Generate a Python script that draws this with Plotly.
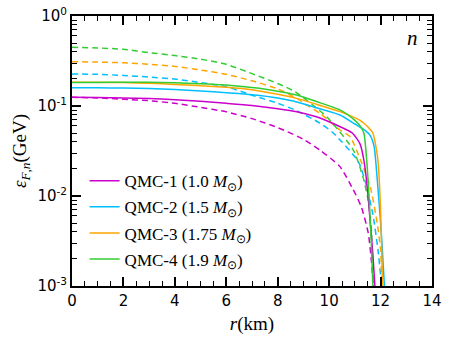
import plotly.graph_objects as go

# ---- data (r in km, epsilon in GeV) ----
names = ["QMC-1 (1.0 <i>M</i><sub>⊙</sub>)", "QMC-2 (1.5 <i>M</i><sub>⊙</sub>)",
         "QMC-3 (1.75 <i>M</i><sub>⊙</sub>)", "QMC-4 (1.9 <i>M</i><sub>⊙</sub>)"]
colors = ["#CC00CC", "#00BFFF", "#FFA500", "#33CC33"]

# solid curves
r_s1 = [0, 1, 2, 3, 4, 5, 6, 7, 8, 8.74, 9.5, 10.2, 10.9, 11.2, 11.35, 11.5, 11.6, 11.7, 11.78]
e_s1 = [0.1247, 0.1242, 0.1227, 0.1208, 0.1175, 0.1130, 0.1072, 0.1012, 0.0933, 0.0865,
        0.0759, 0.0631, 0.0501, 0.0380, 0.0251, 0.0112, 0.0050, 0.00224, 0.0010]

r_s2 = [0, 1, 2, 3, 4, 5, 6, 7, 8, 8.6, 9.5, 10.42, 11.0, 11.4, 11.6, 11.75, 11.82, 11.95, 12.05, 12.15]
e_s2 = [0.160, 0.1596, 0.1581, 0.1560, 0.1521, 0.1469, 0.1403, 0.1334, 0.1230, 0.1135,
        0.0955, 0.0794, 0.0631, 0.0537, 0.0468, 0.0355, 0.0229, 0.0079, 0.00316, 0.0010]

r_s3 = [0, 1, 2, 3, 4, 5, 6, 7, 8, 8.74, 9.5, 10.42, 11.2, 11.5, 11.7, 11.85, 11.91, 12.0, 12.08]
e_s3 = [0.1841, 0.1837, 0.1820, 0.1786, 0.1738, 0.1679, 0.1611, 0.1514, 0.1349, 0.1216,
        0.1047, 0.0865, 0.0692, 0.0589, 0.0501, 0.0316, 0.0229, 0.0071, 0.0010]

r_s4 = [0, 1, 2, 3, 4, 5, 6, 7, 8, 8.74, 9.5, 10.42, 11.0, 11.2, 11.35, 11.46, 11.56, 11.65, 11.7]
e_s4 = [0.1820, 0.1828, 0.1832, 0.1832, 0.1811, 0.1770, 0.1706, 0.1603, 0.1462, 0.1324,
        0.1122, 0.0904, 0.0692, 0.0603, 0.0501, 0.0251, 0.0089, 0.00251, 0.0010]

# dashed curves
r_d1 = [0, 1, 2, 3, 4, 5, 6, 7, 8, 9, 9.64, 10.42, 10.94, 11.25, 11.52, 11.65, 11.72]
e_d1 = [0.1247, 0.1230, 0.1189, 0.1146, 0.1072, 0.0966, 0.0861, 0.0724, 0.0575, 0.0427,
        0.0324, 0.0212, 0.0117, 0.00759, 0.00389, 0.00182, 0.0010]

r_d2 = [0, 1, 2, 3, 4, 5, 6, 7, 8, 8.67, 9.64, 10.16, 11.14, 11.46, 11.7, 11.9, 12.04]
e_d2 = [0.227, 0.2249, 0.2188, 0.2099, 0.1995, 0.1820, 0.1641, 0.1318, 0.1072, 0.0904,
        0.0646, 0.0501, 0.0240, 0.0126, 0.0063, 0.00251, 0.0010]

r_d3 = [0, 1, 2, 3, 4, 5, 6, 7, 8, 8.74, 9.13, 9.64, 10.42, 10.81, 11.27, 11.6, 11.87, 12.0, 12.05]
e_d3 = [0.311, 0.3076, 0.3020, 0.2904, 0.2754, 0.2512, 0.2249, 0.1905, 0.1549, 0.1216,
        0.1026, 0.0830, 0.0541, 0.0457, 0.0231, 0.0126, 0.0050, 0.00251, 0.0010]

r_d4 = [0, 1, 2, 3, 4, 5, 6, 7, 8, 8.67, 9.9, 10.94, 11.33, 11.52, 11.65, 11.72]
e_d4 = [0.449, 0.4416, 0.4266, 0.3917, 0.3631, 0.3311, 0.2904, 0.2291, 0.1778, 0.1445,
        0.0760, 0.0324, 0.0158, 0.0089, 0.00389, 0.0010]

x_ticks = [0, 2, 4, 6, 8, 10, 12, 14]
y_tickvals = [1e-3, 1e-2, 1e-1, 1e0]
y_ticktext = ["10<sup>-3</sup>", "10<sup>-2</sup>", "10<sup>-1</sup>", "10<sup>0</sup>"]

solid = [(r_s1, e_s1), (r_s2, e_s2), (r_s3, e_s3), (r_s4, e_s4)]
dashed = [(r_d1, e_d1), (r_d2, e_d2), (r_d3, e_d3), (r_d4, e_d4)]

fig = go.Figure()
for i in range(4):
    fig.add_trace(go.Scatter(x=dashed[i][0], y=dashed[i][1], mode="lines",
                             line=dict(color=colors[i], width=1.5, dash="6px,4px", shape="spline", smoothing=0.6),
                             showlegend=False, hoverinfo="skip"))
for i in range(4):
    fig.add_trace(go.Scatter(x=solid[i][0], y=solid[i][1], mode="lines",
                             line=dict(color=colors[i], width=1.5, shape="spline", smoothing=0.6),
                             name=names[i], legendgroup=f"g{i}"))

axis_common = dict(showline=True, linecolor="black", linewidth=2, mirror="allticks",
                   ticks="inside", ticklen=9, tickwidth=1.5, tickcolor="black",
                   showgrid=False, zeroline=False, automargin=False,
                   tickfont=dict(family="DejaVu Sans", size=15, color="black"))

fig.update_xaxes(range=[0, 14], tickvals=x_ticks, **axis_common,
                 minor=dict(ticks="inside", ticklen=5, tickwidth=1, tickcolor="black",
                            dtick=0.5, showgrid=False),
                 title=dict(text="<i>r</i>(km)", standoff=8,
                            font=dict(family="Liberation Serif", size=19, color="black")))
fig.update_yaxes(type="log", range=[-3, 0], tickvals=y_tickvals, ticktext=y_ticktext,
                 **axis_common,
                 minor=dict(ticks="inside", ticklen=5, tickwidth=1, tickcolor="black",
                            dtick="D1", showgrid=False),
                 title=dict(text="<i>ε</i><sub><i>F</i>,<i>n</i></sub>(GeV)", standoff=6,
                            font=dict(family="Liberation Serif", size=19, color="black")))

fig.add_annotation(text="<i>n</i>", x=0.945, y=0.918, xref="paper", yref="paper",
                   xanchor="center", yanchor="middle",
                   showarrow=False, font=dict(family="Liberation Serif", size=21, color="black"))

fig.update_layout(
    width=451, height=340,
    margin=dict(l=72, r=19, t=16, b=54, autoexpand=False),
    paper_bgcolor="white", plot_bgcolor="white",
    legend=dict(x=0.035, y=0.455, xanchor="left", yanchor="top",
                bgcolor="rgba(0,0,0,0)", tracegroupgap=1,
                font=dict(family="Liberation Serif", size=17, color="black")),
)

# remove the default 8px page margin so the figure fills the window exactly
fig.write_html("out.html", config={"displayModeBar": False},
               post_script="document.body.style.margin='0px';document.body.style.overflow='hidden';")
